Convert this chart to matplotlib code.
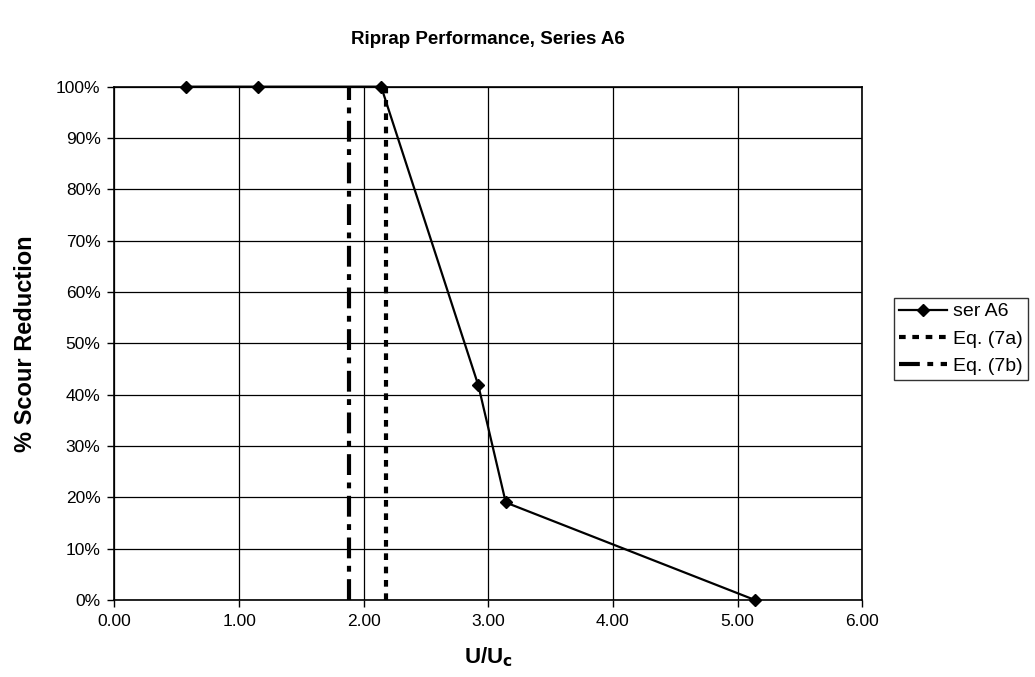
import matplotlib
matplotlib.use("Agg")
import matplotlib.pyplot as plt
from matplotlib.ticker import FuncFormatter

plt.rcParams['font.family'] = ['Liberation Sans', 'DejaVu Sans']

ser_x = [0.57, 1.15, 2.14, 2.92, 3.14, 5.14]
ser_y = [100, 100, 100, 41.8, 19.0, 0]
eq7a_x = [2.18, 2.18]
eq7a_y = [0, 100]
eq7b_x = [1.88, 1.88]
eq7b_y = [0, 100]
x_ticks = [0, 1, 2, 3, 4, 5, 6]
y_ticks = [0, 10, 20, 30, 40, 50, 60, 70, 80, 90, 100]

fig = plt.figure(figsize=(10.35, 6.77), dpi=100)
ax = fig.add_axes([0.1106, 0.1137, 0.7224, 0.7583])

ax.plot(ser_x, ser_y, color='black', lw=1.6, marker='D', ms=6, label='ser A6', zorder=5, clip_on=False)
ax.plot(eq7a_x, eq7a_y, color='black', lw=3, linestyle=(0, (1.6, 1.6)), label='Eq. (7a)', zorder=4)
ax.plot(eq7b_x, eq7b_y, color='black', lw=3, linestyle=(0, (5, 1.8, 1.4, 1.8)), label='Eq. (7b)', zorder=4)

ax.set_xlim(0, 6)
ax.set_ylim(0, 100)
ax.set_xticks(x_ticks)
ax.set_yticks(y_ticks)
ax.xaxis.set_major_formatter(FuncFormatter(lambda v, p: f"{v:.2f}"))
ax.yaxis.set_major_formatter(FuncFormatter(lambda v, p: f"{v:.0f}%"))
ax.grid(True, color='black', lw=0.9)
ax.set_axisbelow(True)
for s in ax.spines.values():
    s.set_color('black')
    s.set_linewidth(1.2)
ax.tick_params(direction='out', length=5, width=1, labelsize=12.5, pad=5)

ax.set_title('Riprap Performance, Series A6', fontsize=13.5, fontweight='bold', pad=31)
ax.set_ylabel('% Scour Reduction', fontsize=17, fontweight='bold')
ax.yaxis.set_label_coords(-0.104, 0.5)
ax.set_xlabel('U/U$_\\mathbf{c}$', fontsize=16, fontweight='bold')
ax.xaxis.set_label_coords(0.5, -0.088)

leg = fig.legend(loc='upper left', bbox_to_anchor=(894/1035, 1 - 298/677), frameon=True,
                 fancybox=False, edgecolor='black', fontsize=14, handlelength=2.5,
                 borderpad=0.25, labelspacing=0.5, handletextpad=0.3, borderaxespad=0)
leg.get_frame().set_linewidth(1)

fig.savefig('out.png', dpi=100, facecolor='white')
